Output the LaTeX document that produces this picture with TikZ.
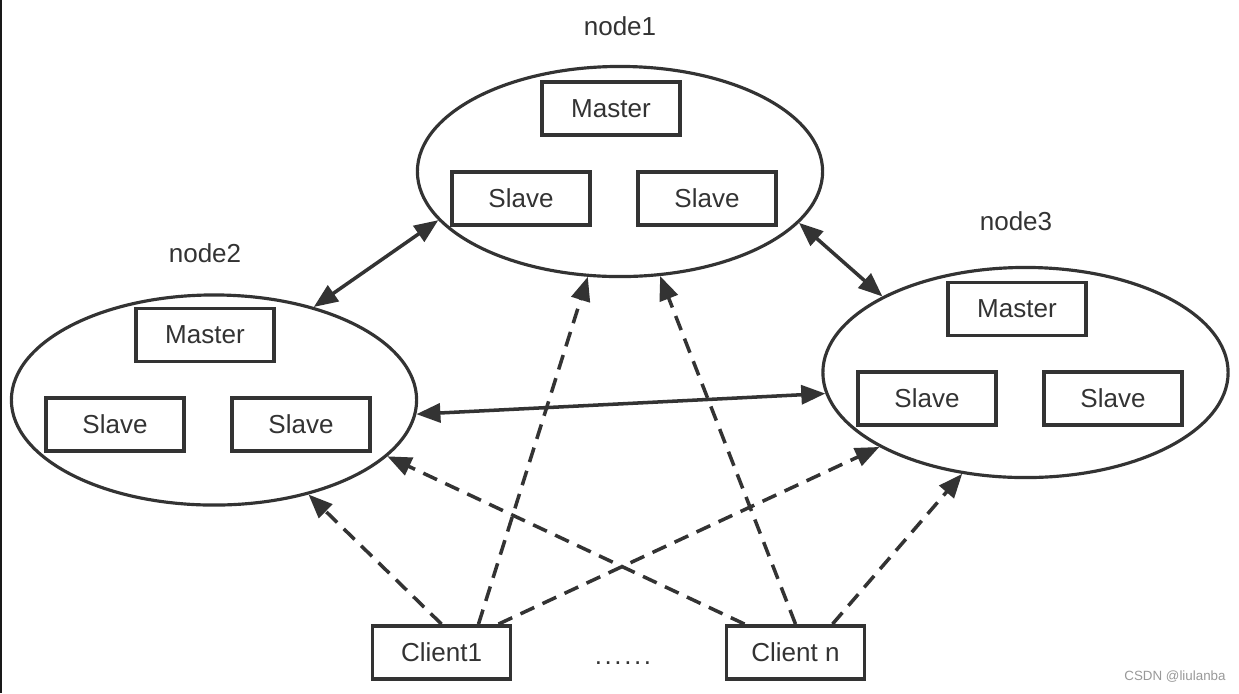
\documentclass[tikz,border=0pt]{standalone}
\usepackage{fontspec}
\setmainfont{Liberation Sans}
\usetikzlibrary{shapes.geometric,arrows.meta,calc}
\definecolor{ink}{HTML}{333333}
\definecolor{mark}{HTML}{999999}
\begin{document}
\begin{tikzpicture}[x=0.01cm,y=-0.01cm,
  every node/.style={font=\fontsize{7.4}{9}\selectfont, text=ink},
  grp/.style={draw=ink, ellipse, line width=0.9pt, minimum width=4.05cm, minimum height=2.10cm, inner sep=0pt},
  box/.style={draw=ink, rectangle, line width=1.1pt, minimum width=1.38cm, minimum height=0.53cm, inner sep=0pt},
  link/.style={draw=ink, line width=1pt, {Triangle[length=2.4mm,width=1.9mm]}-{Triangle[length=2.4mm,width=1.9mm]}},
  req/.style={draw=ink, line width=1pt, dash pattern=on 4.3pt off 2.6pt, -{Triangle[length=2.4mm,width=1.9mm]}}
]
\fill[white] (0,0) rectangle (1239,693);
\useasboundingbox (0,0) rectangle (1239,693);
\draw[line width=0.57pt, black!90] (1,0) -- (1,693);

% groups
\node[grp] (n1) at (620,171.5) {};
\node[grp] (n2) at (214,400) {};
\node[grp] (n3) at (1025.5,372.5) {};

% labels
\node (l1) at (620,26) {node1};
\node (l2) at (205,253) {node2};
\node (l3) at (1016,221) {node3};

% boxes in node1
\node[box] (m1) at (611,108.5) {Master};
\node[box] (s1a) at (521,198.5) {Slave};
\node[box] (s1b) at (707,198.5) {Slave};
% boxes in node2
\node[box] (m2) at (205,335) {Master};
\node[box] (s2a) at (115,424.5) {Slave};
\node[box] (s2b) at (301,424.5) {Slave};
% boxes in node3
\node[box] (m3) at (1017,309) {Master};
\node[box] (s3a) at (927,398.5) {Slave};
\node[box] (s3b) at (1113,398.5) {Slave};

% clients
\node[box] (c1) at (441.5,652.5) {Client1};
\node[box] (cn) at (795.5,652.5) {Client n};
\node[anchor=base] (dots) at (623,664) {\addfontfeature{LetterSpace=10}......};

% links between groups
\draw[link] (n2.43) -- (n1.195);
\draw[link] (n1.344) -- (n3.152);
\draw[link] (n2.356) -- (n3.186);

% client requests
\draw[req] (c1.north) -- (n2.315);
\draw[req] ($(c1.north)+(37,0)$) -- (n1.253);
\draw[req] ($(c1.north)+(57,0)$) -- (n3.207);
\draw[req] ($(cn.north)+(-51,0)$) -- (n2.342);
\draw[req] (cn.north) -- (n1.291);
\draw[req] ($(cn.north)+(37,0)$) -- (n3.238);

\node[text=mark, font=\fontsize{3.8}{5}\selectfont] (wm) at (1175,677) {CSDN @liulanba};
\end{tikzpicture}
\end{document}
